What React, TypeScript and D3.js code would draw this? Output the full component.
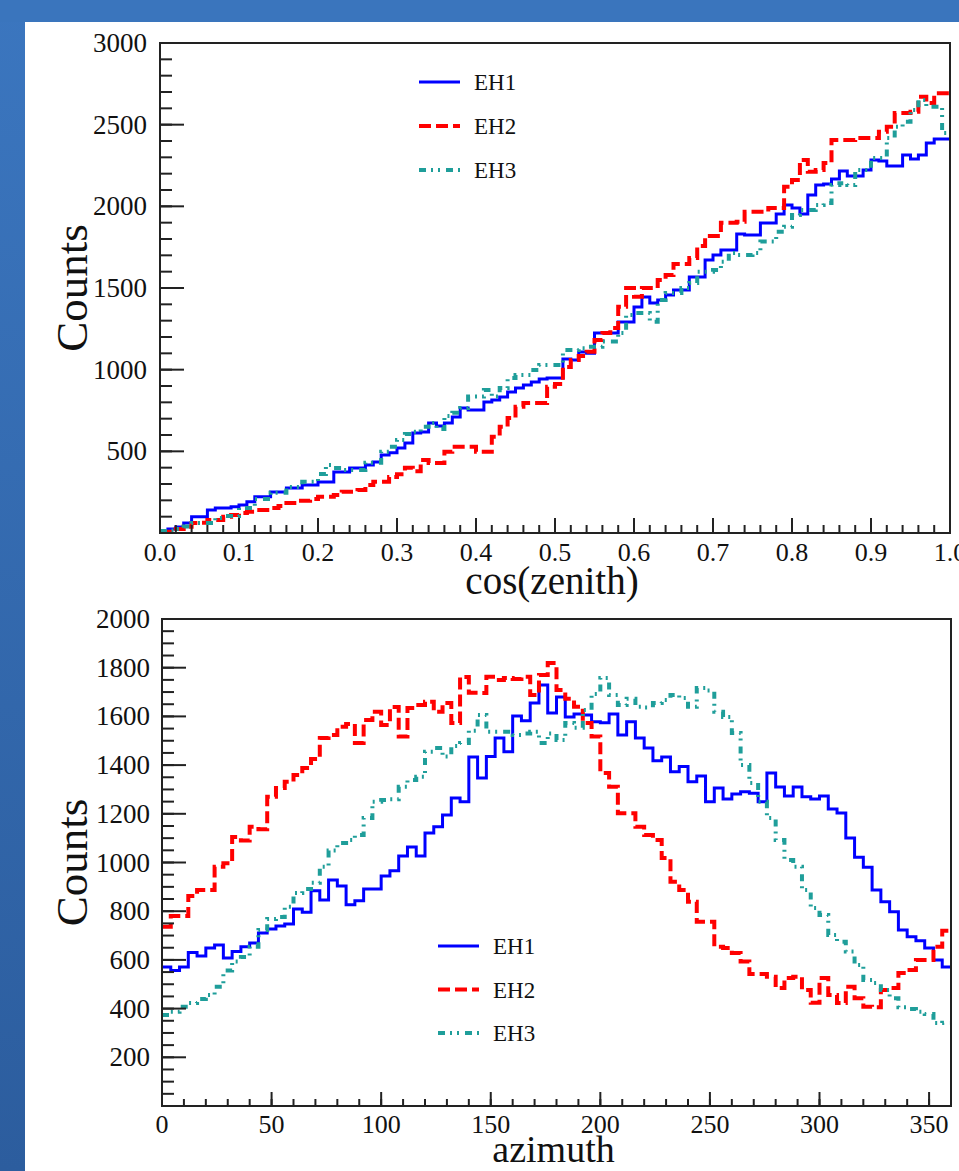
import React from 'react';
import * as d3 from 'd3';

// cos(zenith) histograms, 100 bins from 0 to 1
const zenithEH1 = [
  14, 25, 37, 61, 100, 100, 141, 153, 153, 160,
  171, 192, 222, 222, 251, 251, 275, 275, 294, 294,
  312, 312, 373, 373, 398, 398, 416, 435, 477, 492,
  520, 551, 612, 618, 673, 655, 673, 710, 765, 753,
  753, 802, 814, 833, 863, 888, 906, 925, 943, 949,
  949, 1065, 1059, 1108, 1100, 1224, 1224, 1224, 1292, 1292,
  1384, 1445, 1408, 1427, 1457, 1488, 1488, 1567, 1567, 1671,
  1702, 1733, 1733, 1830, 1824, 1824, 1898, 1898, 1953, 2008,
  1990, 1953, 2069, 2130, 2136, 2167, 2216, 2185, 2185, 2222,
  2283, 2277, 2247, 2247, 2314, 2290, 2314, 2388, 2412, 2412,
];
const zenithEH2 = [
  8, 8, 24, 39, 61, 63, 80, 80, 100, 110,
  122, 130, 141, 141, 153, 165, 184, 198, 198, 208,
  222, 222, 233, 253, 253, 263, 294, 314, 314, 343,
  360, 400, 378, 447, 428, 428, 498, 528, 528, 528,
  498, 498, 590, 651, 704, 773, 796, 796, 796, 896,
  912, 1016, 1059, 1084, 1110, 1181, 1224, 1255, 1385, 1500,
  1447, 1500, 1500, 1549, 1580, 1647, 1647, 1683, 1757, 1818,
  1818, 1900, 1900, 1906, 1967, 1967, 1967, 1990, 1990, 2120,
  2161, 2284, 2212, 2222, 2265, 2406, 2406, 2406, 2418, 2418,
  2418, 2457, 2487, 2571, 2571, 2579, 2671, 2632, 2692, 2692,
];
const zenithEH3 = [
  12, 15, 25, 40, 61, 61, 61, 92, 104, 104,
  153, 153, 208, 208, 247, 247, 282, 282, 314, 314,
  361, 416, 398, 386, 386, 386, 430, 430, 498, 528,
  569, 606, 620, 651, 673, 637, 716, 736, 765, 835,
  835, 875, 835, 888, 949, 967, 967, 998, 1028, 1028,
  1028, 1120, 1120, 1131, 1141, 1141, 1172, 1172, 1224, 1334,
  1347, 1347, 1294, 1427, 1469, 1469, 1500, 1530, 1600, 1600,
  1610, 1661, 1714, 1702, 1702, 1714, 1784, 1784, 1845, 1875,
  1947, 1977, 1977, 2008, 2020, 2130, 2142, 2130, 2222, 2222,
  2296, 2296, 2418, 2487, 2518, 2590, 2651, 2610, 2610, 2449,
];

// azimuth histograms, 90 bins from 0 to 360
const azimuthEH1 = [
  571, 556, 571, 630, 616, 649, 661, 608, 634, 654,
  669, 710, 727, 739, 747, 809, 796, 884, 846, 928,
  904, 826, 843, 891, 891, 945, 966, 1027, 1064, 1027,
  1121, 1147, 1195, 1265, 1250, 1433, 1347, 1435, 1511, 1455,
  1602, 1582, 1655, 1729, 1614, 1680, 1598, 1610, 1606, 1578,
  1574, 1610, 1524, 1578, 1511, 1470, 1418, 1433, 1373, 1394,
  1332, 1355, 1250, 1306, 1261, 1281, 1291, 1284, 1250, 1368,
  1310, 1273, 1310, 1270, 1261, 1273, 1220, 1203, 1101, 1022,
  981, 887, 839, 798, 723, 695, 679, 649, 600, 571,
];
const azimuthEH2 = [
  736, 780, 780, 862, 887, 887, 983, 997, 1105, 1090,
  1147, 1137, 1270, 1306, 1332, 1359, 1388, 1425, 1511, 1524,
  1558, 1569, 1491, 1585, 1619, 1565, 1639, 1517, 1635, 1647,
  1660, 1619, 1655, 1573, 1762, 1697, 1696, 1763, 1750, 1758,
  1754, 1763, 1688, 1770, 1819, 1708, 1672, 1640, 1573, 1517,
  1368, 1311, 1202, 1202, 1147, 1113, 1092, 1018, 921, 887,
  839, 757, 757, 654, 649, 628, 593, 542, 542, 531,
  485, 526, 531, 476, 424, 526, 456, 423, 490, 443,
  408, 406, 476, 485, 546, 559, 600, 600, 654, 720,
];
const azimuthEH3 = [
  374, 387, 408, 423, 439, 456, 490, 556, 593, 612,
  654, 723, 768, 776, 818, 875, 891, 917, 983, 1049,
  1080, 1092, 1113, 1183, 1250, 1257, 1260, 1311, 1339, 1352,
  1455, 1470, 1435, 1478, 1491, 1541, 1606, 1537, 1537, 1537,
  1524, 1530, 1537, 1491, 1530, 1503, 1573, 1553, 1626, 1692,
  1758, 1688, 1647, 1672, 1640, 1637, 1655, 1667, 1688, 1676,
  1640, 1717, 1706, 1619, 1598, 1532, 1400, 1327, 1250, 1183,
  1092, 1010, 983, 887, 813, 784, 702, 675, 634, 579,
  517, 505, 476, 443, 406, 398, 387, 378, 341, 342,
];

const seriesNames = ['EH1', 'EH2', 'EH3'];
const zenithTicks = [0, 0.1, 0.2, 0.3, 0.4, 0.5, 0.6, 0.7, 0.8, 0.9, 1.0];
const zenithCountTicks = [500, 1000, 1500, 2000, 2500, 3000];
const azimuthTicks = [0, 50, 100, 150, 200, 250, 300, 350];
const azimuthCountTicks = [200, 400, 600, 800, 1000, 1200, 1400, 1600, 1800, 2000];

const styles = [
  { color: '#0000ff', width: 3, dash: undefined },
  { color: '#ff0000', width: 4, dash: '12 5' },
  { color: '#1f9e9a', width: 4, dash: '7 5 2 5 2 6' },
];

const FONT = '"Liberation Serif", "Times New Roman", serif';

function histPath(values: number[], lo: number, hi: number, x: any, y: any) {
  const w = (hi - lo) / values.length;
  const pts: [number, number][] = values.map((v, i) => [lo + i * w, v]);
  pts.push([hi, values[values.length - 1]]);
  return d3.line<[number, number]>()
    .x(d => x(d[0]))
    .y(d => y(d[1]))
    .curve(d3.curveStepAfter)(pts) || '';
}

interface PanelProps {
  id: string;
  box: { left: number; right: number; top: number; bottom: number };
  xDomain: [number, number];
  yMax: number;
  data: number[][];
  xTicks: number[];
  xMinorStep: number;
  xFmt: (v: number) => string;
  yTicks: number[];
  yMinorStep: number;
  xMajorLen: number;
  xMinorLen: number;
  xLabel: string;
  xLabelY: number;
  xLabelSize: number;
  xTickLabelY: number;
  yTickLabelX: number;
  legend: { x: number; y: number; gap: number };
}

const Panel: React.FC<PanelProps> = (p) => {
  const { box } = p;
  const x = d3.scaleLinear().domain(p.xDomain).range([box.left, box.right]);
  const y = d3.scaleLinear().domain([0, p.yMax]).range([box.bottom, box.top]);
  const xMinor = d3.range(p.xDomain[0], p.xDomain[1] + 1e-9, p.xMinorStep);
  const yMinor = d3.range(0, p.yMax + 1e-9, p.yMinorStep);
  return (
    <g>
      <defs>
        <clipPath id={p.id}>
          <rect x={box.left} y={box.top} width={box.right - box.left} height={box.bottom - box.top} />
        </clipPath>
      </defs>
      {/* histograms */}
      <g clipPath={`url(#${p.id})`}>
        {p.data.map((vals, k) => (
          <path key={k} d={histPath(vals, p.xDomain[0], p.xDomain[1], x, y)}
            fill="none" stroke={styles[k].color} strokeWidth={styles[k].width}
            strokeDasharray={styles[k].dash} strokeLinejoin="miter" />
        ))}
      </g>
      {/* frame */}
      <rect x={box.left} y={box.top} width={box.right - box.left} height={box.bottom - box.top}
        fill="none" stroke="#222" strokeWidth={2} />
      {/* x ticks */}
      {xMinor.map((t, i) => (
        <line key={'xm' + i} x1={x(t)} x2={x(t)} y1={box.bottom} y2={box.bottom - p.xMinorLen} stroke="#222" strokeWidth={2} />
      ))}
      {p.xTicks.map((t, i) => (
        <g key={'xt' + i}>
          <line x1={x(t)} x2={x(t)} y1={box.bottom} y2={box.bottom - p.xMajorLen} stroke="#222" strokeWidth={2} />
          <text x={x(t)} y={p.xTickLabelY} textAnchor="middle" fontSize={26} fontFamily={FONT} fill="#111">{p.xFmt(t)}</text>
        </g>
      ))}
      {/* y ticks */}
      {yMinor.map((t, i) => (
        <line key={'ym' + i} x1={box.left} x2={box.left + 12} y1={y(t)} y2={y(t)} stroke="#222" strokeWidth={2} />
      ))}
      {p.yTicks.map((t, i) => (
        <g key={'yt' + i}>
          <line x1={box.left} x2={box.left + 24} y1={y(t)} y2={y(t)} stroke="#222" strokeWidth={2} />
          <text x={p.yTickLabelX} y={y(t) + 9} textAnchor="end" fontSize={27} fontFamily={FONT} fill="#111">{t}</text>
        </g>
      ))}
      {/* axis titles */}
      <text x={(box.left + box.right) / 2 - 3} y={p.xLabelY} textAnchor="middle" fontSize={p.xLabelSize} fontFamily={FONT} fill="#111">{p.xLabel}</text>
      <text transform={`translate(87,${(box.top + box.bottom) / 2}) rotate(-90)`} textAnchor="middle"
        fontSize={45} fontFamily={FONT} fill="#111">Counts</text>
      {/* legend */}
      {seriesNames.map((n, k) => (
        <g key={n}>
          <line x1={p.legend.x} x2={p.legend.x + 41} y1={p.legend.y + k * p.legend.gap} y2={p.legend.y + k * p.legend.gap}
            stroke={styles[k].color} strokeWidth={styles[k].width} strokeDasharray={styles[k].dash} />
          <text x={p.legend.x + 55} y={p.legend.y + k * p.legend.gap + 8} fontSize={23} fontFamily={FONT} fill="#111">{n}</text>
        </g>
      ))}
    </g>
  );
};

const App: React.FC = () => {
  return (
    <svg width={959} height={1171} style={{ position: 'absolute', left: 0, top: 0 }}>
      <defs>
        <linearGradient id="bg" x1="0" y1="0" x2="0" y2="1">
          <stop offset="0" stopColor="#3b76bf" />
          <stop offset="1" stopColor="#2c5d9e" />
        </linearGradient>
      </defs>
      <rect x={0} y={0} width={959} height={1171} fill="url(#bg)" />
      <rect x={0} y={0} width={959} height={22} fill="#3a75bd" />
      <rect x={25} y={22} width={934} height={1149} fill="#ffffff" />
      <Panel
        id="clipTop"
        box={{ left: 160, right: 950, top: 43, bottom: 533 }}
        xDomain={[0, 1]}
        yMax={3000}
        data={[zenithEH1, zenithEH2, zenithEH3]}
        xTicks={zenithTicks}
        xMinorStep={0.02}
        xFmt={v => v.toFixed(1)}
        yTicks={zenithCountTicks}
        yMinorStep={100}
        xMajorLen={15}
        xMinorLen={8}
        xLabel="cos(zenith)"
        xLabelY={594}
        xLabelSize={39}
        xTickLabelY={561}
        yTickLabelX={147}
        legend={{ x: 419, y: 82, gap: 44 }}
      />
      <Panel
        id="clipBottom"
        box={{ left: 162, right: 951, top: 619, bottom: 1106 }}
        xDomain={[0, 360]}
        yMax={2000}
        data={[azimuthEH1, azimuthEH2, azimuthEH3]}
        xTicks={azimuthTicks}
        xMinorStep={10}
        xFmt={v => String(v)}
        yTicks={azimuthCountTicks}
        yMinorStep={50}
        xMajorLen={14}
        xMinorLen={7}
        xLabel="azimuth"
        xLabelY={1162}
        xLabelSize={38}
        xTickLabelY={1133}
        yTickLabelX={150}
        legend={{ x: 438, y: 946, gap: 43.5 }}
      />
    </svg>
  );
};

export default App;
